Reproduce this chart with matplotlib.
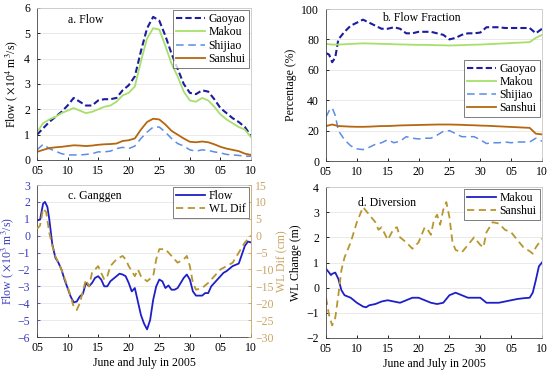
import matplotlib
matplotlib.use("Agg")
import matplotlib.pyplot as plt
import numpy as np

plt.rcParams['font.family'] = ['Liberation Serif', 'DejaVu Serif']
plt.rcParams['mathtext.fontset'] = 'stix'
plt.rcParams['font.size'] = 8.5

xtick_pos = [0, 5, 10, 15, 20, 25, 30, 35]
xtick_labels = ['05', '10', '15', '20', '25', '30', '05', '10']

# Panel a: flow (x10^4 m3/s), daily from June 5 (day 0) to July 10 (day 35)
days_a = list(range(36))
gaoyao = [1.0, 1.25, 1.5, 1.7, 1.9, 2.15, 2.45, 2.3, 2.15, 2.15, 2.35, 2.4, 2.4, 2.45, 2.75, 2.95,
          3.3, 4.3, 5.2, 5.65, 5.5, 4.9, 4.2, 3.6, 3.0, 2.65, 2.6, 2.75, 2.7, 2.4, 2.05, 1.85,
          1.65, 1.5, 1.3, 0.95]
makou = [1.1, 1.45, 1.6, 1.7, 1.85, 1.95, 2.05, 1.95, 1.85, 1.9, 2.0, 2.1, 2.15, 2.3, 2.55, 2.65,
         2.9, 3.9, 4.8, 5.2, 5.15, 4.5, 3.8, 3.3, 2.7, 2.35, 2.3, 2.45, 2.35, 2.1, 1.8, 1.6,
         1.45, 1.3, 1.2, 0.9]
shijiao = [0.4, 0.62, 0.45, 0.35, 0.25, 0.2, 0.2, 0.2, 0.22, 0.25, 0.32, 0.32, 0.35, 0.45, 0.5, 0.45,
           0.55, 0.85, 1.1, 1.3, 1.3, 1.1, 0.85, 0.65, 0.55, 0.4, 0.35, 0.4, 0.38, 0.32, 0.28, 0.22,
           0.2, 0.18, 0.15, 0.15]
sanshui = [0.32, 0.4, 0.47, 0.5, 0.52, 0.55, 0.58, 0.57, 0.55, 0.57, 0.6, 0.62, 0.63, 0.65, 0.75, 0.78,
           0.85, 1.2, 1.5, 1.63, 1.6, 1.4, 1.15, 1.0, 0.85, 0.72, 0.7, 0.73, 0.7, 0.62, 0.52, 0.45,
           0.4, 0.35, 0.25, 0.2]

# Panel b: flow fraction (%)
days_b = [0, 0.5, 1, 1.5, 2, 3, 4, 5, 6, 7, 8, 9, 10, 11, 12, 13, 14, 15, 16, 17, 18, 19, 20, 21,
          22, 23, 24, 25, 26, 27, 28, 29, 30, 31, 32, 33, 34, 35]
frac_gaoyao = [71, 70, 65, 68, 80, 85, 89, 91, 93, 91, 89, 87, 87, 88, 87, 84, 84, 85, 85, 85, 84, 83,
               80, 81, 83, 84, 84, 84.5, 88, 88, 88, 87.5, 87.5, 87.5, 87.5, 87.5, 84, 87]
frac_makou = [77, 76.8, 76.6, 76.6, 76.6, 76.8, 77, 77.2, 77.4, 77.3, 77.2, 77, 77, 76.8, 76.7, 76.6,
              76.5, 76.4, 76.4, 76.3, 76.2, 76.1, 76, 76.1, 76.2, 76.4, 76.5, 76.6, 76.8, 77, 77.2,
              77.4, 77.6, 77.8, 78, 78.2, 81, 83]
frac_shijiao = [29, 33, 35, 30, 20, 14, 10, 8, 7.5, 9, 11, 12, 14, 12, 13, 16, 15, 14.5, 15, 15, 17,
                19.5, 20, 18, 16, 16, 16, 14, 11.5, 12, 12, 12.5, 12, 12.5, 12.5, 12.5, 15, 13]
frac_sanshui = [23, 23.5, 24, 23.5, 23, 22.8, 22.6, 22.5, 22.5, 22.6, 22.8, 23, 23, 23.2, 23.4, 23.5,
                23.6, 23.7, 23.8, 23.9, 24, 24, 24, 23.9, 23.8, 23.6, 23.5, 23.3, 23.2, 23, 22.8,
                22.6, 22.4, 22.2, 22, 21.8, 18, 17.5]

# Panel c: Ganggen flow (x10^3 m3/s) and WL difference (cm)
days_c = [0, 0.5, 1, 1.3, 1.7, 2, 2.5, 3, 3.5, 4, 4.5, 5, 5.5, 6, 6.5, 7, 7.5, 8, 8.5, 9, 9.5, 10,
          10.5, 11, 11.5, 12, 13, 13.5, 14, 14.5, 15, 15.5, 16, 16.5, 17, 17.5, 18, 18.5, 19, 19.5,
          20, 20.5, 21, 21.5, 22, 22.5, 23, 24, 24.5, 25, 25.5, 26, 26.5, 27, 27.5, 28, 28.5, 29,
          30, 30.5, 31, 32, 33, 34, 34.5, 35]
ganggen_flow = [0.9, 0.95, 1.9, 2.0, 1.7, 1.0, -0.5, -1.3, -1.6, -2.0, -2.6, -3.1, -3.6, -3.95, -3.9,
                -3.6, -3.45, -2.8, -3.0, -2.8, -2.5, -2.4, -2.6, -3.0, -3.0, -2.7, -2.4, -2.25, -2.3,
                -2.4, -2.8, -3.3, -3.1, -3.9, -4.7, -5.2, -5.55, -5.0, -3.8, -3.0, -2.6, -2.7, -3.1,
                -2.95, -3.2, -3.2, -3.1, -2.5, -2.3, -2.6, -3.3, -3.55, -3.55, -3.55, -3.4, -3.4,
                -3.0, -2.8, -2.4, -2.2, -2.1, -1.8, -1.65, -0.6, -0.35, -0.4]
days_wl = [0, 0.5, 1, 1.5, 2, 2.5, 3, 4, 5, 6, 6.5, 7, 8, 8.5, 9, 10, 11, 11.5, 12, 13, 14, 14.5,
           15, 16, 16.5, 17, 18, 19, 19.5, 20, 21, 22, 23, 24, 24.5, 25, 25.5, 26, 27, 28, 29, 30,
           31, 32, 33, 34, 35]
wl_dif = [2, 3, 8, 7, 1, -3, -6, -10, -15, -21, -22, -20, -13, -15, -11, -9, -13, -12, -9, -7, -6,
          -7, -9, -12, -10, -12, -13.5, -12, -7, -4, -4, -6, -8, -7, -6, -9, -14, -16, -15.5, -14,
          -12, -10, -9, -8, -5, -2, 0]

# Panel d: diversion WL change (m)
days_d1 = [0, 0.5, 0.8, 1, 1.5, 2, 2.5, 3, 4, 5, 6, 6.5, 7, 8, 9, 10, 11, 12, 13, 14, 15, 16, 17,
           18, 19, 20, 21, 22, 23, 24, 25, 26, 27, 28, 29, 30, 31, 32, 33, 33.5, 34, 34.5, 35]
div_makou = [0.75, 0.6, 0.5, 0.55, 0.6, 0.35, -0.1, -0.3, -0.4, -0.6, -0.75, -0.78, -0.7, -0.65,
             -0.55, -0.5, -0.55, -0.6, -0.5, -0.4, -0.4, -0.5, -0.6, -0.65, -0.6, -0.3, -0.2, -0.3,
             -0.4, -0.4, -0.4, -0.6, -0.6, -0.6, -0.55, -0.5, -0.45, -0.42, -0.4, -0.2, 0.3, 0.85,
             1.0]
days_d2 = [0, 0.5, 1, 1.5, 2, 2.5, 3, 4, 5, 6, 7, 8, 8.5, 9, 10, 11, 11.5, 12, 13, 14, 15, 16, 16.5,
           17, 17.5, 18, 18.5, 19, 19.5, 20, 20.5, 21, 22, 23, 24, 25, 25.5, 26, 27, 28, 29, 30,
           31, 32, 33, 33.5, 34, 35]
div_sanshui = [-0.4, -1.1, -1.5, -1.2, -0.3, 0.7, 1.2, 1.8, 2.6, 3.2, 2.9, 2.6, 2.3, 2.4, 1.9, 2.35,
               2.4, 2.0, 1.8, 1.55, 1.8, 2.4, 2.3, 2.1, 2.7, 2.9, 2.5, 3.1, 3.4, 2.8, 1.8, 1.5,
               1.4, 1.7, 2.0, 1.7, 1.6, 2.2, 2.6, 2.55, 2.3, 2.2, 1.9, 1.6, 1.45, 1.35, 1.6, 1.95]

C_GAO = '#1c1c9e'
C_MAK = '#a6e06a'
C_SHI = '#5b8de6'
C_SAN = '#b5660f'
C_FLOW = '#1f1fc8'
C_WL = '#b8962e'
C_RAX = '#c9a465'
C_LAX = '#3a3ac0'

W, H = 550, 370
fig = plt.figure(figsize=(5.5, 3.7), dpi=100)


def add_ax(l, t, r, b):
    return fig.add_axes([l / W, (H - b) / H, (r - l) / W, (b - t) / H])


def style(ax):
    ax.set_xlim(0, 35)
    ax.set_xticks(xtick_pos)
    ax.set_xticklabels(xtick_labels)
    ax.tick_params(direction='in', length=2.5, width=0.6, labelsize=8.5)
    ax.tick_params(axis='x', pad=3.5)
    ax.tick_params(axis='y', pad=5)
    ax.yaxis.grid(True, color='#e6e6e6', linewidth=0.6)
    ax.set_axisbelow(True)
    for s in ['top', 'right']:
        ax.spines[s].set_color('#c8c8c8')
    for s in ['left', 'bottom']:
        ax.spines[s].set_color('#444444')
    for s in ax.spines.values():
        s.set_linewidth(0.6)


leg_kw = dict(fontsize=8.5, handlelength=2.5, frameon=True, fancybox=False,
              edgecolor='#444444', borderpad=0.25, labelspacing=0.1, handletextpad=0.3,
              borderaxespad=0.2)

# a
ax = add_ax(37, 8, 251, 160)
style(ax)
ax.plot(days_a, gaoyao, color=C_GAO, lw=1.5, ls=(0, (3, 1.5)), label='Gaoyao')
ax.plot(days_a, makou, color=C_MAK, lw=1.3, label='Makou')
ax.plot(days_a, shijiao, color=C_SHI, lw=1.1, ls=(0, (5, 3)), label='Shijiao')
ax.plot(days_a, sanshui, color=C_SAN, lw=1.3, label='Sanshui')
ax.set_ylim(0, 6)
ax.set_yticks(range(7))
ax.set_ylabel('Flow ( $\\times$10$^4$ m$^3$/s)', fontsize=8.5, labelpad=3)
ax.text(5, 5.4, 'a. Flow', fontsize=8.5)
lg = ax.legend(loc='upper right', **leg_kw)
lg.get_frame().set_linewidth(0.6)

# b
ax = add_ax(326, 9, 542, 161)
style(ax)
ax.plot(days_b, frac_gaoyao, color=C_GAO, lw=1.5, ls=(0, (3, 1.5)), label='Gaoyao')
ax.plot(days_b, frac_makou, color=C_MAK, lw=1.3, label='Makou')
ax.plot(days_b, frac_shijiao, color=C_SHI, lw=1.1, ls=(0, (5, 3)), label='Shijiao')
ax.plot(days_b, frac_sanshui, color=C_SAN, lw=1.3, label='Sanshui')
ax.set_ylim(0, 100)
ax.set_yticks(range(0, 101, 20))
ax.set_ylabel('Percentage (%)', fontsize=8.5, labelpad=3)
ax.text(9, 92, 'b. Flow Fraction', fontsize=8.5)
lg = ax.legend(loc='upper right', bbox_to_anchor=(1.0, 0.68), **leg_kw)
lg.get_frame().set_linewidth(0.6)

# c
ax = add_ax(37, 185, 251, 337)
style(ax)
ax.spines['right'].set_visible(False)
l1, = ax.plot(days_c, ganggen_flow, color=C_FLOW, lw=1.3, label='Flow')
ax.set_ylim(-6, 3)
ax.set_yticks(range(-6, 4))
ax.tick_params(axis='y', colors=C_LAX)
ax.set_ylabel('Flow ( $\\times$10$^3$ m$^3$/s)', fontsize=8.5, color=C_LAX, labelpad=1)
ax.set_xlabel('June and July in 2005', fontsize=8.5, labelpad=2)
ax.text(5, 2.15, 'c. Ganggen', fontsize=8.5)
ax2 = ax.twinx()
l2, = ax2.plot(days_wl, wl_dif, color=C_WL, lw=1.3, ls=(0, (4, 2.5)), label='WL Dif')
ax2.set_ylim(-30, 15)
ax2.set_yticks(range(-30, 16, 5))
ax2.set_xlim(0, 35)
ax2.tick_params(direction='in', length=2.5, width=0.6, labelsize=8.5, pad=3, colors=C_RAX)
ax2.spines['right'].set_color(C_RAX)
ax2.spines['right'].set_linewidth(0.6)
for s in ['top', 'left', 'bottom']:
    ax2.spines[s].set_visible(False)
ax2.set_ylabel('WL Dif (cm)', fontsize=8.5, color=C_RAX, labelpad=2)
lg = ax2.legend([l1, l2], ['Flow', 'WL Dif'], loc='upper right', **leg_kw)
lg.get_frame().set_linewidth(0.6)

# d
ax = add_ax(326, 187, 542, 338)
style(ax)
ax.plot(days_d1, div_makou, color=C_FLOW, lw=1.3, label='Makou')
ax.plot(days_d2, div_sanshui, color=C_WL, lw=1.3, ls=(0, (4, 2.5)), label='Sanshui')
ax.set_ylim(-2, 4)
ax.set_yticks(range(-2, 5))
ax.set_ylabel('WL Change (m)', fontsize=8.5, labelpad=3)
ax.set_xlabel('June and July in 2005', fontsize=8.5, labelpad=2)
ax.text(5.2, 3.25, 'd. Diversion', fontsize=8.5)
lg = ax.legend(loc='upper right', **leg_kw)
lg.get_frame().set_linewidth(0.6)

fig.savefig('out.png', dpi=100)
